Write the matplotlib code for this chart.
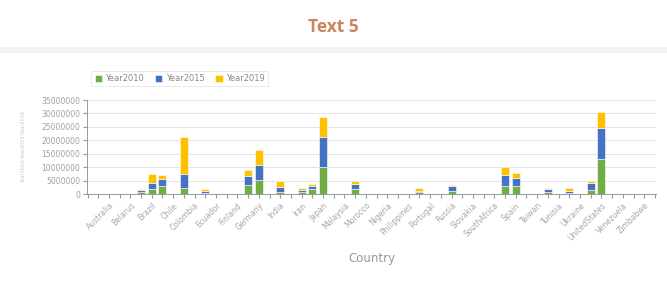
import matplotlib
matplotlib.use("Agg")
import matplotlib.pyplot as plt
import numpy as np

countries = [
    "Australia", "Austria", "Belarus", "Belgium", "Brazil", "Canada", "Chile",
    "China", "Colombia", "CzechRepublic", "Ecuador", "Egypt", "Finland",
    "France", "Germany", "Hungary", "India", "Indonesia", "Iran", "Italy",
    "Japan", "Kazakhstan", "Malaysia", "Mexico", "Morocco", "Netherlands",
    "Nigeria", "Pakistan", "Philippines", "Poland", "Portugal", "Romania",
    "Russia", "Serbia", "Slovakia", "Slovenia", "SouthAfrica", "SouthKorea",
    "Spain", "Sweden", "Taiwan", "Thailand", "Tunisia", "Turkey", "Ukraine",
    "UnitedKingdom", "UnitedStates", "Uzbekistan", "Venezuela", "Vietnam",
    "Zimbabwe",
]

# values in millions, only non-zero countries listed
year2010 = {"Belgium": 0.9, "Brazil": 1.7, "Canada": 2.8, "China": 2.1,
            "CzechRepublic": 0.5, "France": 3.3, "Germany": 5.3, "India": 0.9,
            "Iran": 0.6, "Italy": 1.7, "Japan": 10.2, "Mexico": 1.9,
            "Poland": 0.6, "Russia": 1.2, "SouthKorea": 2.8, "Spain": 2.8,
            "Thailand": 0.8, "Turkey": 0.5, "UnitedKingdom": 1.6,
            "UnitedStates": 12.9}
year2015 = {"Belgium": 0.7, "Brazil": 2.3, "Canada": 2.6, "China": 5.3,
            "CzechRepublic": 0.6, "France": 3.3, "Germany": 5.6, "India": 1.8,
            "Iran": 0.8, "Italy": 1.4, "Japan": 10.9, "Mexico": 2.0,
            "Poland": 0.7, "Russia": 1.6, "SouthKorea": 4.2, "Spain": 3.0,
            "Thailand": 1.0, "Turkey": 0.8, "UnitedKingdom": 2.4,
            "UnitedStates": 11.5}
year2019 = {"Belgium": 0.4, "Brazil": 3.3, "Canada": 1.7, "China": 13.9,
            "CzechRepublic": 0.7, "France": 2.2, "Germany": 5.4, "India": 2.3,
            "Iran": 1.0, "Italy": 0.6, "Japan": 7.7, "Mexico": 1.1,
            "Poland": 0.8, "Russia": 0.7, "SouthKorea": 3.2, "Spain": 2.2,
            "Thailand": 0.6, "Turkey": 0.8, "UnitedKingdom": 1.0,
            "UnitedStates": 6.2}

series = [("Year2010", year2010, "#70ad47"),
          ("Year2015", year2015, "#4472c4"),
          ("Year2019", year2019, "#ffc000")]

fig = plt.figure(figsize=(6.67, 2.83), dpi=100)
fig.patch.set_facecolor("white")

# title band
fig.text(0.5, 0.905, "Text 5", ha="center", va="center", fontsize=12.5,
         fontweight="bold", color="#c8875e", family="Open Sans")
fig.add_artist(plt.Rectangle((0, 0.812), 1, 0.022, transform=fig.transFigure,
                             color="#f4f4f4", lw=0))

ax = fig.add_axes([87 / 667, 1 - 194 / 283, 569 / 667, 94 / 283])

x = np.arange(len(countries))
bottom = np.zeros(len(countries))
for name, vals, color in series:
    h = np.array([vals.get(c, 0.0) for c in countries]) * 1e6
    ax.bar(x, h, width=0.75, bottom=bottom, color=color, label=name,
           edgecolor="white", linewidth=0.4)
    bottom += h

ax.set_xlim(-2.05, 51.1)
ax.set_ylim(0, 35000000)
ax.set_yticks(np.arange(0, 35000001, 5000000))
ax.set_yticklabels([str(v) for v in range(0, 35000001, 5000000)])
ax.yaxis.grid(True, color="#e3e3e3", linewidth=0.7)
ax.set_axisbelow(True)

ticks = np.arange(-2, 52)
labels = [countries[t] if 0 <= t < len(countries) and t % 2 == 0 else ""
          for t in ticks]
ax.set_xticks(ticks)
ax.set_xticklabels(labels, rotation=45, ha="right", rotation_mode="anchor",
                   fontsize=5.5, color="#a8a8a8")
ax.tick_params(axis="x", length=3, color="#999999", pad=2)
ax.tick_params(axis="y", length=3, color="#999999", labelsize=5.5,
               labelcolor="#a0a0a0", pad=2)

for s in ["top", "right"]:
    ax.spines[s].set_visible(False)
ax.spines["left"].set_color("#999999")
ax.spines["bottom"].set_color("#999999")
ax.spines["left"].set_linewidth(0.7)
ax.spines["bottom"].set_linewidth(0.7)

ax.set_xlabel("Country", fontsize=8.5, color="#999999", labelpad=7)
fig.text(23 / 667, 1 - 147 / 283, "Year2010,Year2015,Year2019", rotation=90,
         ha="center", va="center", fontsize=3.5, color="#c8c8c8")

leg = ax.legend(loc="lower left", bbox_to_anchor=(0.0, 1.1), ncol=3,
                fontsize=6, frameon=True, handlelength=0.9, handleheight=0.9,
                handletextpad=0.4, columnspacing=1.3, borderpad=0.4,
                fancybox=False)
leg.get_frame().set_edgecolor("#e0e0e0")
leg.get_frame().set_linewidth(0.6)
for t in leg.get_texts():
    t.set_color("#888888")

fig.savefig("out.png", dpi=100)
